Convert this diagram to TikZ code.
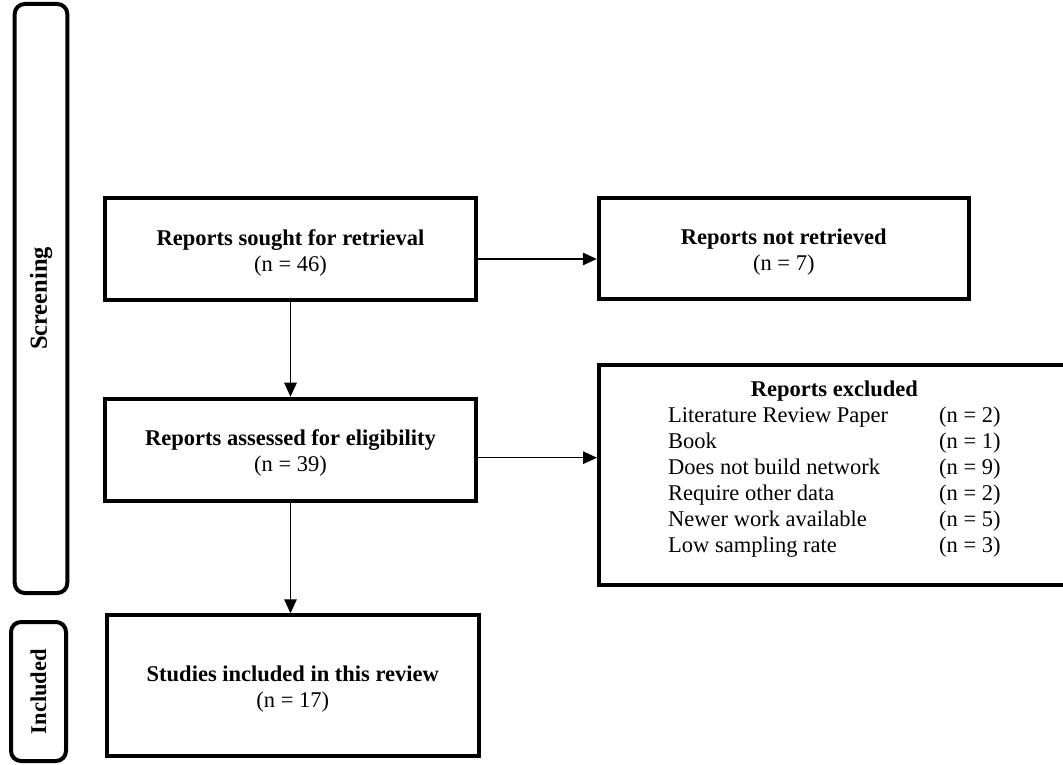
\documentclass[tikz,border=0pt]{standalone}
\usepackage{fontspec}
\setmainfont{Liberation Serif}
\usetikzlibrary{arrows.meta, positioning}

\begin{document}
\begin{tikzpicture}[x=1pt, y=-1pt,
    box/.style={draw, line width=4pt, minimum width=371pt, align=center, inner sep=0pt, font=\fontsize{22.5}{26}\selectfont},
    phase/.style={draw, line width=4pt, rounded corners=10pt, inner sep=0pt, font=\fontsize{22.5}{26}\selectfont\bfseries},
    flow/.style={-{Triangle[length=14pt,width=12.5pt]}, line width=1.3pt}]
    \useasboundingbox (0,0) rectangle (1063,765);
    \clip (0,0) rectangle (1063,765);

    % Phase bars
    \node[phase, rotate=90, minimum width=589pt, minimum height=52.6pt, font=\fontsize{24.5}{28}\selectfont\bfseries] (screenbar) at (41,298.5) {Screening};
    \node[phase, rotate=90, minimum width=139pt, minimum height=55pt] (inclbar) at (38.5,691.5) {Included};

    % Flow boxes
    \node[box, minimum height=102pt] (sought) at (290.5,249) {\rule{0pt}{23pt}\textbf{Reports sought for retrieval}\\(n = 46)};
    \node[box, minimum width=370pt, minimum height=100.7pt] (notret) at (783.8,248.3) {\rule{0pt}{23pt}\textbf{Reports not retrieved}\\(n = 7)};
    \node[box, minimum height=102pt] (elig) at (290.5,449.7) {\rule{0pt}{23pt}\textbf{Reports assessed for eligibility}\\(n = 39)};
    \node[box, minimum width=372pt, minimum height=140.4pt] (studies) at (292.8,685.5) {\rule{0pt}{23pt}\textbf{Studies included in this review}\\(n = 17)};

    % Exclusion box
    \node[box, minimum width=481pt, minimum height=220pt] (excl) at (839.5,474.7) {};
    \node[anchor=base west, inner sep=0pt, font=\fontsize{22.5}{26}\selectfont] (exclist) at (668,396) {%
        \begin{tabular}[t]{@{}p{271pt}@{}l@{}}
            \multicolumn{2}{c}{\textbf{Reports excluded}}\\
            Literature Review Paper & (n = 2)\\
            Book & (n = 1)\\
            Does not build network & (n = 9)\\
            Require other data & (n = 2)\\
            Newer work available & (n = 5)\\
            Low sampling rate & (n = 3)
        \end{tabular}};

    % Connectors
    \draw[flow] ([yshift=-10pt]sought.east) -- ([yshift=-10pt]sought.east -| notret.west);
    \draw[flow] (sought.south) -- (elig.north);
    \draw[flow] ([yshift=-8pt]elig.east) -- ([yshift=-8pt]elig.east -| excl.west);
    \draw[flow] (elig.south) -- (elig.south |- studies.north);
\end{tikzpicture}
\end{document}
